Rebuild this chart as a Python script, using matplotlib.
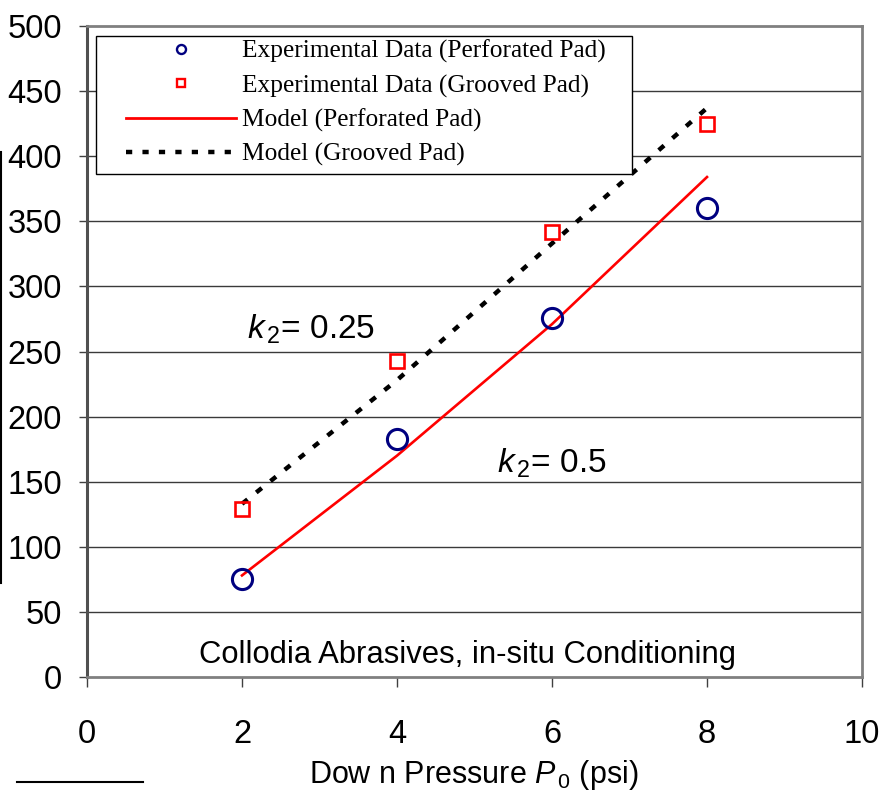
import matplotlib
matplotlib.use("Agg")
import matplotlib.pyplot as plt
from matplotlib.lines import Line2D
from matplotlib.patches import Rectangle

plt.rcParams['font.family'] = ['Liberation Sans', 'DejaVu Sans']
plt.rcParams['mathtext.fontset'] = 'custom'
plt.rcParams['mathtext.rm'] = 'Liberation Sans'
plt.rcParams['mathtext.it'] = 'Liberation Sans:italic'

# data
pressure = [2, 4, 6, 8]
exp_perforated = [75, 183, 276, 360]
exp_grooved = [129, 243, 342, 425]
model_perforated = [78, 170, 271, 384]
model_grooved = [133, 228, 333, 437]

xticks = [0, 2, 4, 6, 8, 10]
yticks = list(range(0, 501, 50))

navy = '#000080'
red = '#ff0000'
W, H = 880, 793

fig = plt.figure(figsize=(8.8, 7.93), dpi=100)
ax = fig.add_axes([87 / W, 1 - 677 / H, (862 - 87) / W, (677 - 26) / H])

ax.plot(pressure, model_perforated, color=red, lw=1.9, zorder=3)
ax.plot(pressure, model_grooved, color='black', lw=3.2, dashes=(1.6, 2.5), zorder=3)
ax.plot(pressure, exp_perforated, 'o', ms=14.5, mfc='none', mec=navy, mew=2.2, zorder=4)
ax.plot(pressure, exp_grooved, 's', ms=10.5, mfc='none', mec=red, mew=1.9, zorder=4)

ax.set_xlim(0, 10)
ax.set_ylim(0, 500)
ax.set_xticks(xticks)
ax.set_yticks(yticks)
ax.tick_params(axis='both', labelsize=23.5, colors='#404040', labelcolor='black', width=1)
ax.tick_params(axis='y', length=6, pad=12)
ax.tick_params(axis='x', length=7, pad=23)

for y in yticks[1:-1]:
    ax.axhline(y, color='#3a3a3a', lw=1, zorder=1)

for side in ['top', 'right', 'bottom']:
    ax.spines[side].set_color('#808080')
    ax.spines[side].set_linewidth(2)
ax.spines['left'].set_color('#505050')
ax.spines['left'].set_linewidth(2.2)

# legend box
ax.add_patch(Rectangle((96 / W, 1 - 174 / H), (632 - 96) / W, (174 - 36) / H,
                       transform=fig.transFigure, facecolor='white', edgecolor='black',
                       lw=1, zorder=4.5, clip_on=False))
handles = [
    Line2D([], [], ls='none', marker='o', ms=6.5, mfc='none', mec=navy, mew=1.7),
    Line2D([], [], ls='none', marker='s', ms=5.8, mfc='none', mec=red, mew=1.7),
    Line2D([], [], color=red, lw=2.0),
    Line2D([], [], color='black', lw=3.2, dashes=(1.4, 2.3)),
]
labels = ['Experimental Data (Perforated Pad)', 'Experimental Data (Grooved Pad)',
          'Model (Perforated Pad)', 'Model (Grooved Pad)']
leg = ax.legend(handles, labels, loc='upper left', bbox_to_anchor=(126 / W, 1 - 40 / H),
                bbox_transform=fig.transFigure, frameon=False, borderpad=0, borderaxespad=0,
                handlelength=4.32, handletextpad=0.23, labelspacing=0.43,
                prop={'family': 'Liberation Serif', 'size': 18.3})
leg.set_zorder(6)

ax.text(2.06, 260, r'$k_{\,2}$= 0.25', fontsize=24, family='Liberation Sans', zorder=5)
ax.text(5.29, 157, r'$k_{\,2}$= 0.5', fontsize=24, family='Liberation Sans', zorder=5)
ax.text(4.91, 17, 'Collodia Abrasives, in-situ Conditioning', fontsize=22.3,
        ha='center', va='center', zorder=5)

fig.text(474 / W, 1 - 783 / H, r'Dow n Pressure $P_{\,0}$ (psi)', fontsize=22,
         ha='center', va='baseline')

# stray fragments at the left edge of the original picture
fig.add_artist(Line2D([1 / W, 1 / W], [1 - 152 / H, 1 - 583 / H], color='black', lw=1.5))
fig.add_artist(Line2D([17 / W, 143 / W], [1 - 782 / H, 1 - 782 / H], color='black', lw=1.5))

fig.savefig('out.png', dpi=100)
